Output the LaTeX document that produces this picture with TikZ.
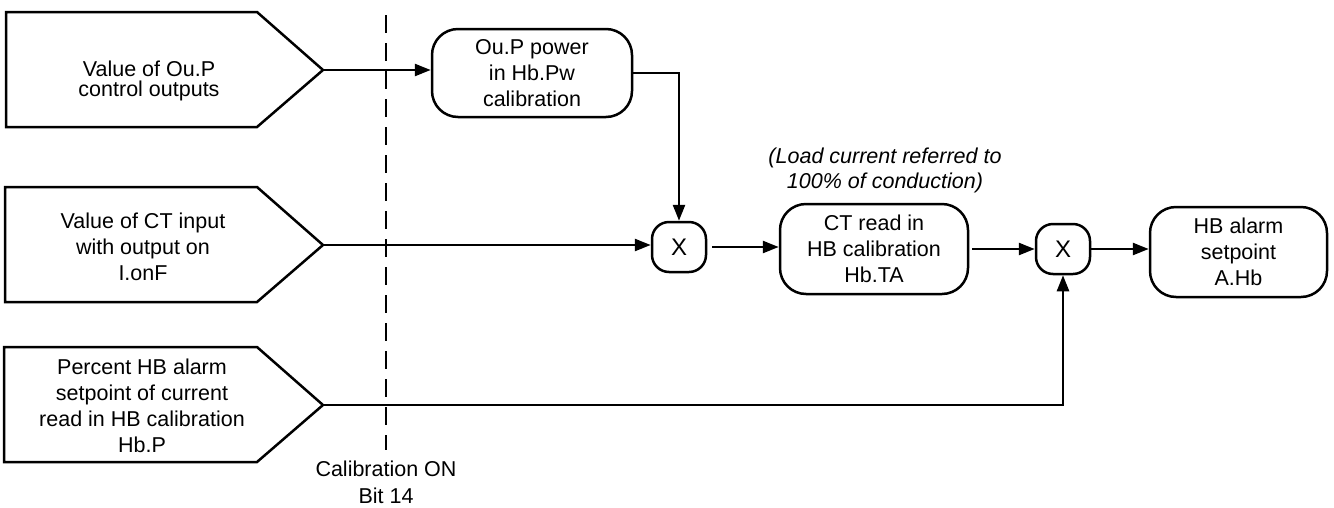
\documentclass[tikz,border=0pt]{standalone}
\usepackage{fontspec}
\setmainfont{Liberation Sans}
\usetikzlibrary{arrows.meta}
\begin{document}
\begin{tikzpicture}[x=1pt,y=-1pt,
  every node/.style={font=\fontsize{21.5}{26}\selectfont, align=center, inner sep=0pt},
  rbox/.style={draw, line width=2.5pt, rounded corners=26pt},
  xbox/.style={draw, line width=2.5pt, rounded corners=17pt, minimum width=54pt, minimum height=50pt, font=\fontsize{24}{26}\selectfont},
  inshape/.style={draw, line width=2.5pt, line join=miter},
  conn/.style={line width=2.5pt, -{Triangle[length=16pt,width=12pt]}},
  calline/.style={line width=2pt, dash pattern=on 18pt off 10pt}]
\useasboundingbox (0,0) rectangle (1334,507);

% input shapes
\draw[inshape] (6,12) -- (257,12) -- (323,70) -- (257,127) -- (6,127) -- cycle;
\coordinate (tip1) at (323,70);
\node[font=\fontsize{21.5}{20}\selectfont] (t1) at (149,81) {Value of Ou.P\\control outputs};

\draw[inshape] (5,187) -- (257,187) -- (323,245) -- (257,302) -- (5,302) -- cycle;
\coordinate (tip2) at (323,245);
\node (t2) at (143,247) {Value of CT input\\with output on\\I.onF};

\draw[inshape] (4,347) -- (257,347) -- (323,405) -- (257,462) -- (4,462) -- cycle;
\coordinate (tip3) at (323,405);
\node (t3) at (142,406) {Percent HB alarm\\setpoint of current\\read in HB calibration\\Hb.P};

% calibration line
\coordinate (dtop) at (386,15);
\coordinate (dbot) at (386,450);
\draw[calline] (dtop) -- (dbot);
\node[font=\fontsize{21.5}{27}\selectfont] (cal) at (386,482) {Calibration ON\\Bit 14};

% process boxes
\node[rbox, minimum width=200pt, minimum height=88pt] (oup) at (532,73) {Ou.P power\\in Hb.Pw\\calibration};
\node[xbox] (x1) at (679,247) {X};
\node[rbox, minimum width=188pt, minimum height=90pt] (ct) at (874,249) {CT read in\\HB calibration\\Hb.TA};
\node[font=\itshape\fontsize{21.5}{25}\selectfont] (note) at (885,170) {(Load current referred to\\100\% of conduction)};
\node[xbox] (x2) at (1063,249) {X};
\node[rbox, minimum width=177pt, minimum height=90pt] (hb) at (1238.5,252) {HB alarm\\setpoint\\A.Hb};

% connectors
\draw[conn] (tip1) -- (tip1 -| oup.west);
\draw[conn] (oup.east) -| (x1.north);
\draw[conn] (tip2) -- (tip2 -| x1.west);
\draw[conn, shorten <=5pt] (x1.east) -- (x1.east -| ct.west);
\draw[conn, shorten <=3pt] (ct.east |- x2.west) -- (x2.west);
\draw[conn] (x2.east) -- (x2.east -| hb.west);
\draw[conn] (tip3) -| (x2.south);
\end{tikzpicture}
\end{document}
